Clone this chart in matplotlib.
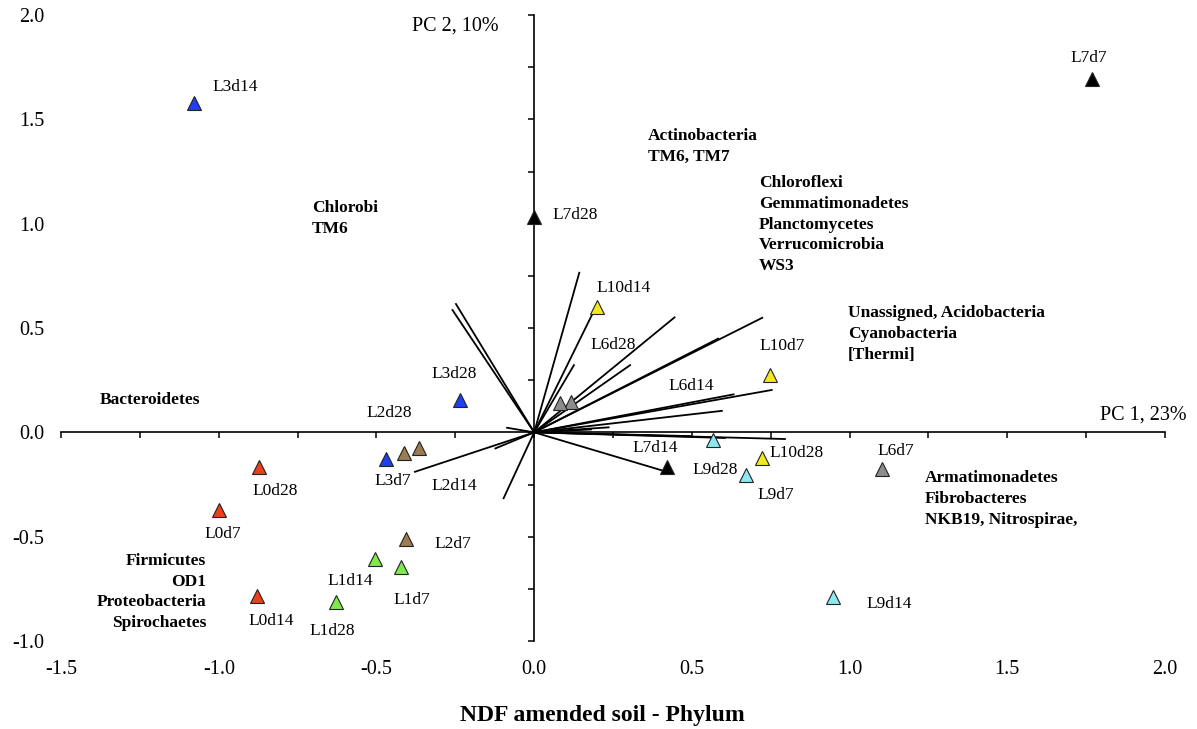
import matplotlib
matplotlib.use("Agg")
import matplotlib.pyplot as plt
import numpy as np
from matplotlib.ticker import FormatStrFormatter, MultipleLocator

plt.rcParams['font.family'] = ['Liberation Serif', 'DejaVu Serif']
plt.rcParams['axes.unicode_minus'] = False

# sample scores on the first two principal components
samples = ['L0d7', 'L0d14', 'L0d28', 'L1d7', 'L1d14', 'L1d28',
           'L2d7', 'L2d14', 'L2d28', 'L3d7', 'L3d14', 'L3d28',
           'L6d7', 'L6d14', 'L6d28', 'L7d7', 'L7d14', 'L7d28',
           'L9d7', 'L9d14', 'L9d28', 'L10d7', 'L10d14', 'L10d28']
pc1 = [-0.998, -0.880, -0.871, -0.422, -0.506, -0.628,
       -0.405, -0.366, -0.413, -0.470, -1.080, -0.236,
       1.103, 0.117, 0.082, 1.769, 0.420, 0.000,
       0.670, 0.946, 0.566, 0.748, 0.199, 0.722]
pc2 = [-0.372, -0.783, -0.165, -0.647, -0.609, -0.815,
       -0.513, -0.077, -0.101, -0.129, 1.576, 0.155,
       -0.177, 0.147, 0.139, 1.691, -0.168, 1.033,
       -0.205, -0.788, -0.037, 0.275, 0.602, -0.125]

# phylum loadings (biplot vectors)
load_x = [-0.248, -0.259, 0.143, 0.188, 0.126, 0.445, 0.304, 0.723, 0.583,
          0.753, 0.632, 0.595, 0.236, 0.180, 0.795, 0.605, 0.497, 0.420,
          -0.086, -0.378, -0.123, -0.097]
load_y = [0.615, 0.586, 0.765, 0.578, 0.322, 0.551, 0.322, 0.549, 0.449,
          0.203, 0.182, 0.103, 0.024, 0.014, -0.032, -0.027, -0.018, -0.189,
          0.022, -0.189, -0.077, -0.316]

phylum_groups = [
    ['Chlorobi', 'TM6'],
    ['Actinobacteria', 'TM6, TM7'],
    ['Chloroflexi', 'Gemmatimonadetes', 'Planctomycetes', 'Verrucomicrobia', 'WS3'],
    ['Unassigned, Acidobacteria', 'Cyanobacteria', '[Thermi]'],
    ['Bacteroidetes'],
    ['Firmicutes', 'OD1', 'Proteobacteria', 'Spirochaetes'],
    ['Armatimonadetes', 'Fibrobacteres', 'NKB19, Nitrospirae,'],
]

# where each phylum block sits (data coords of first line) and its alignment
group_pos = [(-0.704, 1.076, 'left'), (0.360, 1.420, 'left'), (0.713, 1.196, 'left'),
             (0.994, 0.570, 'left'), (-1.377, 0.155, 'left'), (-1.040, -0.615, 'right'),
             (1.239, -0.218, 'left')]

colors = {'L0': '#e8401c', 'L1': '#80e84c', 'L2': '#9c7c52', 'L3': '#1f3ff0',
          'L6': '#8c8c8c', 'L7': '#000000', 'L9': '#8ce8ee', 'L10': '#f2e81e'}

# label offsets from each marker, in pixels
label_off = {'L0d7': (3, -24), 'L0d14': (15, -25), 'L0d28': (16, -24),
             'L1d7': (11, -33), 'L1d14': (-24, -22), 'L1d28': (-4, -29),
             'L2d7': (46, -5), 'L2d14': (36, -38), 'L2d28': (-15, 40),
             'L3d7': (7, -22), 'L3d14': (42, 16), 'L3d28': (-6, 26),
             'L6d7': (14, 18), 'L6d14': (120, 16), 'L6d28': (53, 58),
             'L7d7': (-3, 21), 'L7d14': (-11, 19), 'L7d28': (41, 2),
             'L9d7': (30, -20), 'L9d14': (57, -7), 'L9d28': (2, -30),
             'L10d7': (12, 29), 'L10d14': (27, 19), 'L10d28': (35, 5)}

fig = plt.figure(figsize=(11.97, 7.29), dpi=100)
ax = fig.add_axes([0.0510, 0.1207, 0.9223, 0.8587])
ax.set_xlim(-1.5, 2.0)
ax.set_ylim(-1.0, 2.0)

# axes cross at the origin
for s in ['top', 'right']:
    ax.spines[s].set_visible(False)
ax.spines['left'].set_position(('data', 0))
ax.spines['bottom'].set_position(('data', 0))
ax.spines['left'].set_linewidth(1.2)
ax.spines['bottom'].set_linewidth(1.2)
ax.xaxis.set_major_locator(MultipleLocator(0.25))
ax.yaxis.set_major_locator(MultipleLocator(0.25))
ax.tick_params(labelbottom=False, labelleft=False, direction='out',
               length=4, width=1.1)

# tick labels along the outer edges
sx = ax.secondary_xaxis('bottom')
sx.set_xticks(np.arange(-1.5, 2.01, 0.5))
sx.xaxis.set_major_formatter(FormatStrFormatter('%.1f'))
sx.spines['bottom'].set_visible(False)
sx.tick_params(length=0, pad=14, labelsize=14.5)
sy = ax.secondary_yaxis('left')
sy.set_yticks(np.arange(-1.0, 2.01, 0.5))
sy.yaxis.set_major_formatter(FormatStrFormatter('%.1f'))
sy.spines['left'].set_visible(False)
sy.tick_params(length=0, pad=12, labelsize=14.5)

# loading vectors
for lx, ly in zip(load_x, load_y):
    ax.plot([0, lx], [0, ly], color='black', lw=1.3, zorder=2)

# sample markers with labels
for name, x, y in zip(samples, pc1, pc2):
    grp = name.split('d')[0]
    ax.plot(x, y, marker='^', ms=10, color=colors[grp], mec='#222222',
            mew=0.8, zorder=3, ls='none')
    ax.annotate(name, (x, y), xytext=label_off[name], textcoords='offset pixels',
                ha='center', va='center', fontsize=12.5)

# phylum names
for lines, (gx, gy, ha) in zip(phylum_groups, group_pos):
    for i, txt in enumerate(lines):
        ax.annotate(txt, (gx, gy), xytext=(0, -20.9 * i), textcoords='offset pixels',
                    ha=ha, va='center', fontsize=12.5, fontweight='bold')

ax.text(-0.25, 1.945, 'PC 2, 10%', ha='center', va='center', fontsize=14.5)
ax.text(2.07, 0.083, 'PC 1, 23%', ha='right', va='center', fontsize=14.5,
        clip_on=False)

fig.text(602 / 1197, 1 - 716 / 729, 'NDF amended soil - Phylum', ha='center',
         va='center', fontsize=17, fontweight='bold')

fig.savefig('out.png', dpi=100)
